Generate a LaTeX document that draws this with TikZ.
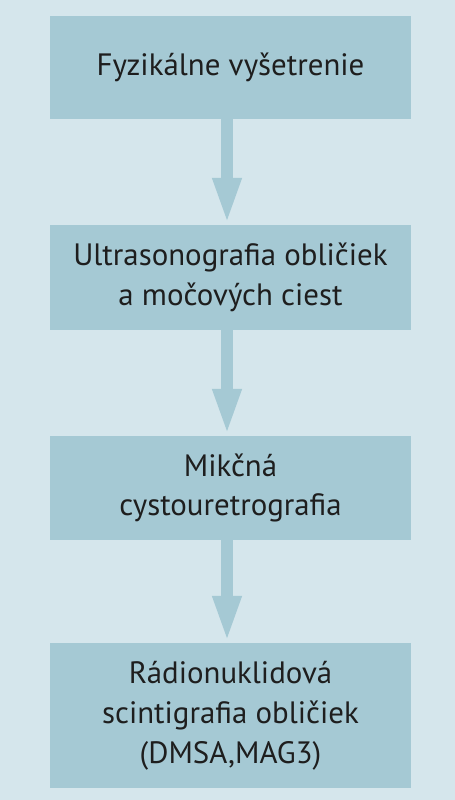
\documentclass[tikz,border=0pt]{standalone}
\usepackage{fontspec}
\setmainfont{PT Sans}
\usetikzlibrary{arrows.meta}
\definecolor{bgc}{HTML}{D5E6EC}
\definecolor{boxc}{HTML}{A5C9D4}
\definecolor{txtc}{HTML}{1E1E1E}
\tikzset{
  stepbox/.style={fill=boxc, draw=none, minimum width=361bp, align=center,
    text=txtc, font=\fontsize{31}{40}\selectfont, inner sep=0pt},
  flow/.style={draw=boxc, line width=12bp,
    -{Triangle[width=26bp,length=47bp]}, shorten >=0pt}
}
\begin{document}
\begin{tikzpicture}[x=1bp,y=-1bp]
\fill[bgc] (0,0) rectangle (455,800);
\useasboundingbox (0,0) rectangle (455,800);
\node[stepbox, minimum height=103bp] (a) at (230.5,67.5) {Fyzikálne vyšetrenie};
\node[stepbox, minimum height=105bp] (b) at (230.5,277.5) {Ultrasonografia obličiek\\a močových ciest};
\node[stepbox, minimum height=104bp] (c) at (230.5,488) {Mikčná\\cystouretrografia};
\node[stepbox, minimum height=145bp] (d) at (230.5,715.5) {Rádionuklidová\\scintigrafia obličiek\\(DMSA,MAG3)};
\draw[flow] ([xshift=-3.5bp]a.south) -- ([xshift=-3.5bp]b.north);
\draw[flow] ([xshift=-3.5bp]b.south) -- ([xshift=-3.5bp]c.north);
\draw[flow] ([xshift=-3.5bp]c.south) -- ([xshift=-3.5bp]d.north);
\end{tikzpicture}
\end{document}
